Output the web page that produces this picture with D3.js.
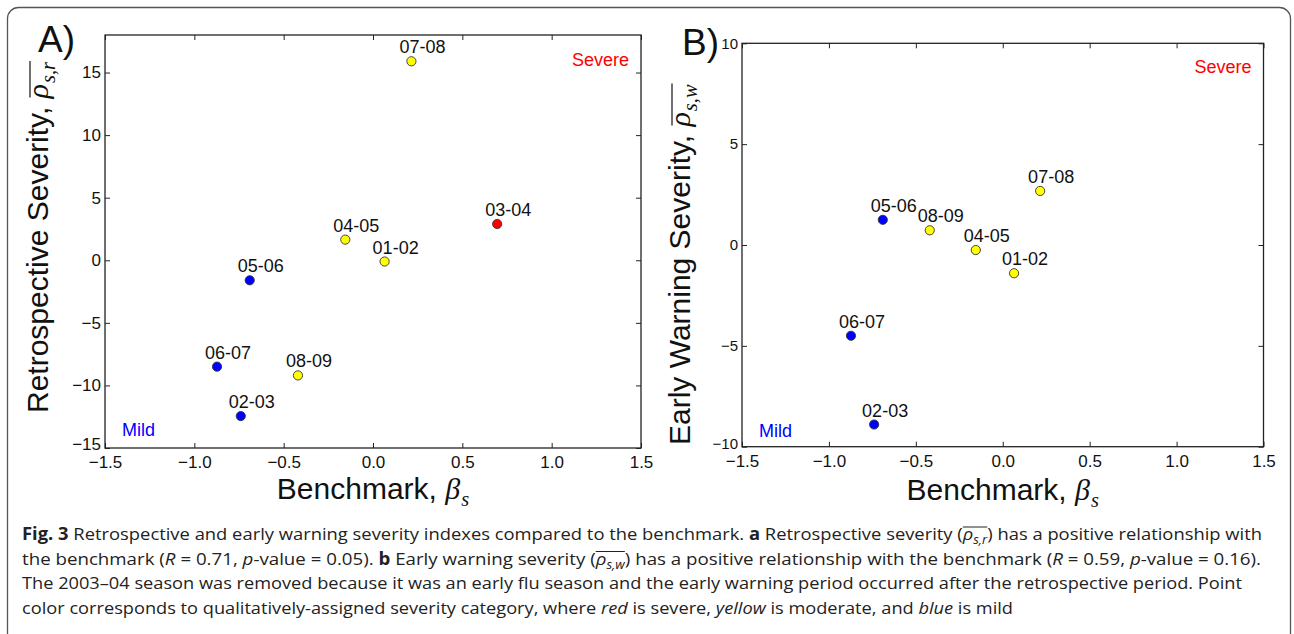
<!DOCTYPE html>
<html>
<head>
<meta charset="utf-8">
<title>Severity indexes vs benchmark</title>
<style>
  body { margin: 0; background: #fff; }
  svg { display: block; font-family: "Liberation Sans", Arial, sans-serif; }
  svg text { white-space: pre; }
  .outer { fill: none; stroke: #555; stroke-width: 1.3px; }
  .box { fill: none; stroke: #222; stroke-width: 1.3px; }
  .axis path { display: none; }
  .axis line { stroke: #222; stroke-width: 1px; }
  .axis text { font-family: "Liberation Sans", Arial, sans-serif; font-size: 17px; fill: #111; }
  .pt-label { font-size: 18px; fill: #111; }
  .math { font-family: "Liberation Serif", serif; font-style: italic; fill: #111; }
  .title { fill: #111; }
  .caption { font-family: "Open Sans", sans-serif; font-size: 17px; fill: #222; }
</style>
</head>
<body>
<script src="https://cdn.jsdelivr.net/npm/d3@7"></script>
<script>
// values, one entry per season
var seasons   = ["01-02", "02-03", "03-04", "04-05", "05-06", "06-07", "07-08", "08-09"];
var benchmark = [0.065, -0.74, 0.695, -0.155, -0.69, -0.873, 0.215, -0.42];
var retroSev  = [-0.1, -12.45, 2.9, 1.65, -1.6, -8.5, 15.9, -9.2];
var earlySev  = [-1.4, -8.9, null, -0.25, 1.25, -4.5, 2.68, 0.73];   // 03-04 removed
var category  = ["moderate", "mild", "severe", "moderate", "mild", "mild", "moderate", "moderate"];

var xTicks  = [-1.5, -1.0, -0.5, 0.0, 0.5, 1.0, 1.5];
var yTicksA = [-15, -10, -5, 0, 5, 10, 15];
var yTicksB = [-10, -5, 0, 5, 10];

var catColor = d3.scaleOrdinal()
    .domain(["severe", "moderate", "mild"])
    .range(["#ff0000", "#ffff00", "#0000ff"]);

var svg = d3.select("body").append("svg")
    .attr("width", 1294)
    .attr("height", 634);

svg.append("rect")
    .attr("class", "outer")
    .attr("x", 7.5).attr("y", 7.5)
    .attr("width", 1283).attr("height", 720)
    .attr("rx", 11);

// plain text, then italic greek letter with subscript, optional overline
function mathLabel(g, plain, greek, sub, size, bar) {
  var t = g.append("text").attr("class", "title").attr("font-size", size).text(plain);
  var w1 = t.node().getComputedTextLength();
  var gr = g.append("text").attr("class", "math").attr("x", w1).attr("font-size", size).text(greek);
  var w2 = gr.node().getComputedTextLength();
  var sb = g.append("text").attr("class", "math")
      .attr("x", w1 + w2 + 1)
      .attr("y", size * 0.22)
      .attr("font-size", size * 0.68)
      .text(sub);
  var w3 = sb.node().getComputedTextLength();
  if (bar) {
    g.append("line")
        .attr("x1", w1 + 1).attr("x2", w1 + w2 + w3 + 2)
        .attr("y1", -size * 0.6).attr("y2", -size * 0.6)
        .attr("stroke", "#111").attr("stroke-width", 1.2);
  }
  return w1 + w2 + w3 + 1;
}

function panel(opt) {
  var g = svg.append("g");

  var x = d3.scaleLinear().domain([-1.5, 1.5]).range([opt.left, opt.right]);
  var y = d3.scaleLinear().domain(opt.yDomain).range([opt.bottom, opt.top]);

  var rows = seasons.map(function(s, i) {
    return {season: s, x: benchmark[i], y: opt.values[i], cat: category[i]};
  }).filter(function(d) { return d.y != null; });

  // axes, ticks pointing inward on all four sides
  g.append("g")
      .attr("class", "axis")
      .attr("transform", "translate(0," + opt.bottom + ")")
      .call(d3.axisBottom(x).tickValues(xTicks).tickFormat(d3.format(".1f"))
        .tickSizeInner(-5).tickSizeOuter(0).tickPadding(8));

  g.append("g")
      .attr("class", "axis")
      .attr("transform", "translate(0," + opt.top + ")")
      .call(d3.axisTop(x).tickValues(xTicks).tickFormat("")
        .tickSizeInner(-5).tickSizeOuter(0));

  var yl = g.append("g")
      .attr("class", "axis")
      .attr("transform", "translate(" + opt.left + ",0)")
      .call(d3.axisLeft(y).tickValues(opt.yTicks).tickFormat(d3.format("d"))
        .tickSizeInner(-5).tickSizeOuter(0).tickPadding(4));
  yl.selectAll("text").style("font-size", opt.yTickSize + "px");
  // lowest y label sits just above the x labels, as in the original
  yl.selectAll(".tick").filter(function(d) { return d === opt.yTicks[0]; })
      .select("text").attr("dy", "0.1em");

  g.append("g")
      .attr("class", "axis")
      .attr("transform", "translate(" + opt.right + ",0)")
      .call(d3.axisRight(y).tickValues(opt.yTicks).tickFormat("")
        .tickSizeInner(-5).tickSizeOuter(0));

  g.append("rect")
      .attr("class", "box")
      .attr("x", opt.left).attr("y", opt.top)
      .attr("width", opt.right - opt.left)
      .attr("height", opt.bottom - opt.top);

  // points
  var pts = g.selectAll("g.pt")
      .data(rows)
      .enter().append("g")
      .attr("class", "pt")
      .attr("transform", function(d) { return "translate(" + x(d.x) + "," + y(d.y) + ")"; });

  pts.append("circle")
      .attr("r", 4.6)
      .attr("fill", function(d) { return catColor(d.cat); })
      .attr("stroke", "#333")
      .attr("stroke-width", 0.9);

  pts.append("text")
      .attr("class", "pt-label")
      .attr("x", -12)
      .attr("y", -8)
      .text(function(d) { return d.season; });

  // category notes
  g.append("text")
      .attr("x", opt.right - 12).attr("y", opt.top + opt.severeDy)
      .attr("text-anchor", "end")
      .attr("font-size", 18)
      .attr("fill", "#ff0000")
      .text("Severe");

  g.append("text")
      .attr("x", opt.left + 17).attr("y", opt.bottom - opt.mildDy)
      .attr("font-size", 18)
      .attr("fill", "#0000ff")
      .text("Mild");

  // panel letter
  g.append("text")
      .attr("x", opt.letterX).attr("y", opt.letterY)
      .attr("font-size", 37)
      .attr("fill", "#111")
      .text(opt.letter);

  // x title, centred under the axes
  var xt = g.append("g");
  var wx = mathLabel(xt, "Benchmark, ", "β", "s", 30, false);
  xt.attr("transform", "translate(" + ((opt.left + opt.right) / 2 - wx / 2) + "," + opt.xTitleY + ")");

  // y title, rotated
  var yt = g.append("g")
      .attr("transform", "translate(" + opt.yTitleX + "," + opt.yTitleY + ") rotate(-90)");
  mathLabel(yt, opt.yTitle, "ρ", opt.ySub, 30, true);
}

panel({
  left: 105, right: 641, top: 35, bottom: 448,
  yDomain: [-15, 18], yTicks: yTicksA, yTickSize: 17,
  values: retroSev,
  letter: "A)", letterX: 38, letterY: 52,
  severeDy: 31, mildDy: 12,
  xTitleY: 499,
  yTitle: "Retrospective Severity, ", ySub: "s,r", yTitleX: 48, yTitleY: 413
});

panel({
  left: 742, right: 1263.5, top: 43.3, bottom: 446.7,
  yDomain: [-10, 10], yTicks: yTicksB, yTickSize: 15,
  values: earlySev,
  letter: "B)", letterX: 682, letterY: 55,
  severeDy: 30, mildDy: 10,
  xTitleY: 500,
  yTitle: "Early Warning Severity, ", ySub: "s,w", yTitleX: 690, yTitleY: 445
});

// caption, one array of [text, style] pieces per line
var captionLines = [
  [["Fig. 3", "b"], [" Retrospective and early warning severity indexes compared to the benchmark. "], ["a", "b"],
   [" Retrospective severity ("], ["ρ", "bar"], ["s,r", "barsub"], [") has a positive relationship with"]],
  [["the benchmark ("], ["R", "i"], [" = 0.71, "], ["p", "i"], ["-value = 0.05). "], ["b", "b"],
   [" Early warning severity ("], ["ρ", "bar"], ["s,w", "barsub"], [") has a positive relationship with the benchmark ("],
   ["R", "i"], [" = 0.59, "], ["p", "i"], ["-value = 0.16)."]],
  [["The 2003–04 season was removed because it was an early flu season and the early warning period occurred after the retrospective period. Point"]],
  [["color corresponds to qualitatively-assigned severity category, where "], ["red", "i"], [" is severe, "],
   ["yellow", "i"], [" is moderate, and "], ["blue", "i"], [" is mild"]]
];
var captionEnds = [1262, 1261, 1242, 1013];
var captionY = [540, 564.5, 589, 613.5];

captionLines.forEach(function(line, li) {
  var t = svg.append("text")
      .attr("class", "caption")
      .attr("x", 22).attr("y", captionY[li])
      .attr("textLength", captionEnds[li] - 22)
      .attr("lengthAdjust", "spacingAndGlyphs");
  var idx = 0, barStart = null, bars = [], lastSub = false;
  line.forEach(function(seg) {
    var s = seg[1] || "";
    var ts = t.append("tspan").text(seg[0]);
    if (s === "b") ts.attr("font-weight", "bold");
    if (s === "i" || s === "bar" || s === "barsub") ts.attr("font-style", "italic");
    if (s === "barsub") { ts.attr("font-size", 12).attr("dy", 4); }
    if (lastSub && s !== "barsub") ts.attr("dy", -4);
    if (s === "bar") barStart = idx;
    if (s === "barsub") bars.push([barStart, idx + seg[0].length - 1]);
    lastSub = (s === "barsub");
    idx += seg[0].length;
  });
  var node = t.node();
  bars.forEach(function(b) {
    var x1 = node.getStartPositionOfChar(b[0]).x;
    var x2 = node.getEndPositionOfChar(b[1]).x;
    svg.append("line")
        .attr("x1", x1).attr("x2", x2)
        .attr("y1", captionY[li] - 13).attr("y2", captionY[li] - 13)
        .attr("stroke", "#222").attr("stroke-width", 1);
  });
});
</script>
</body>
</html>
